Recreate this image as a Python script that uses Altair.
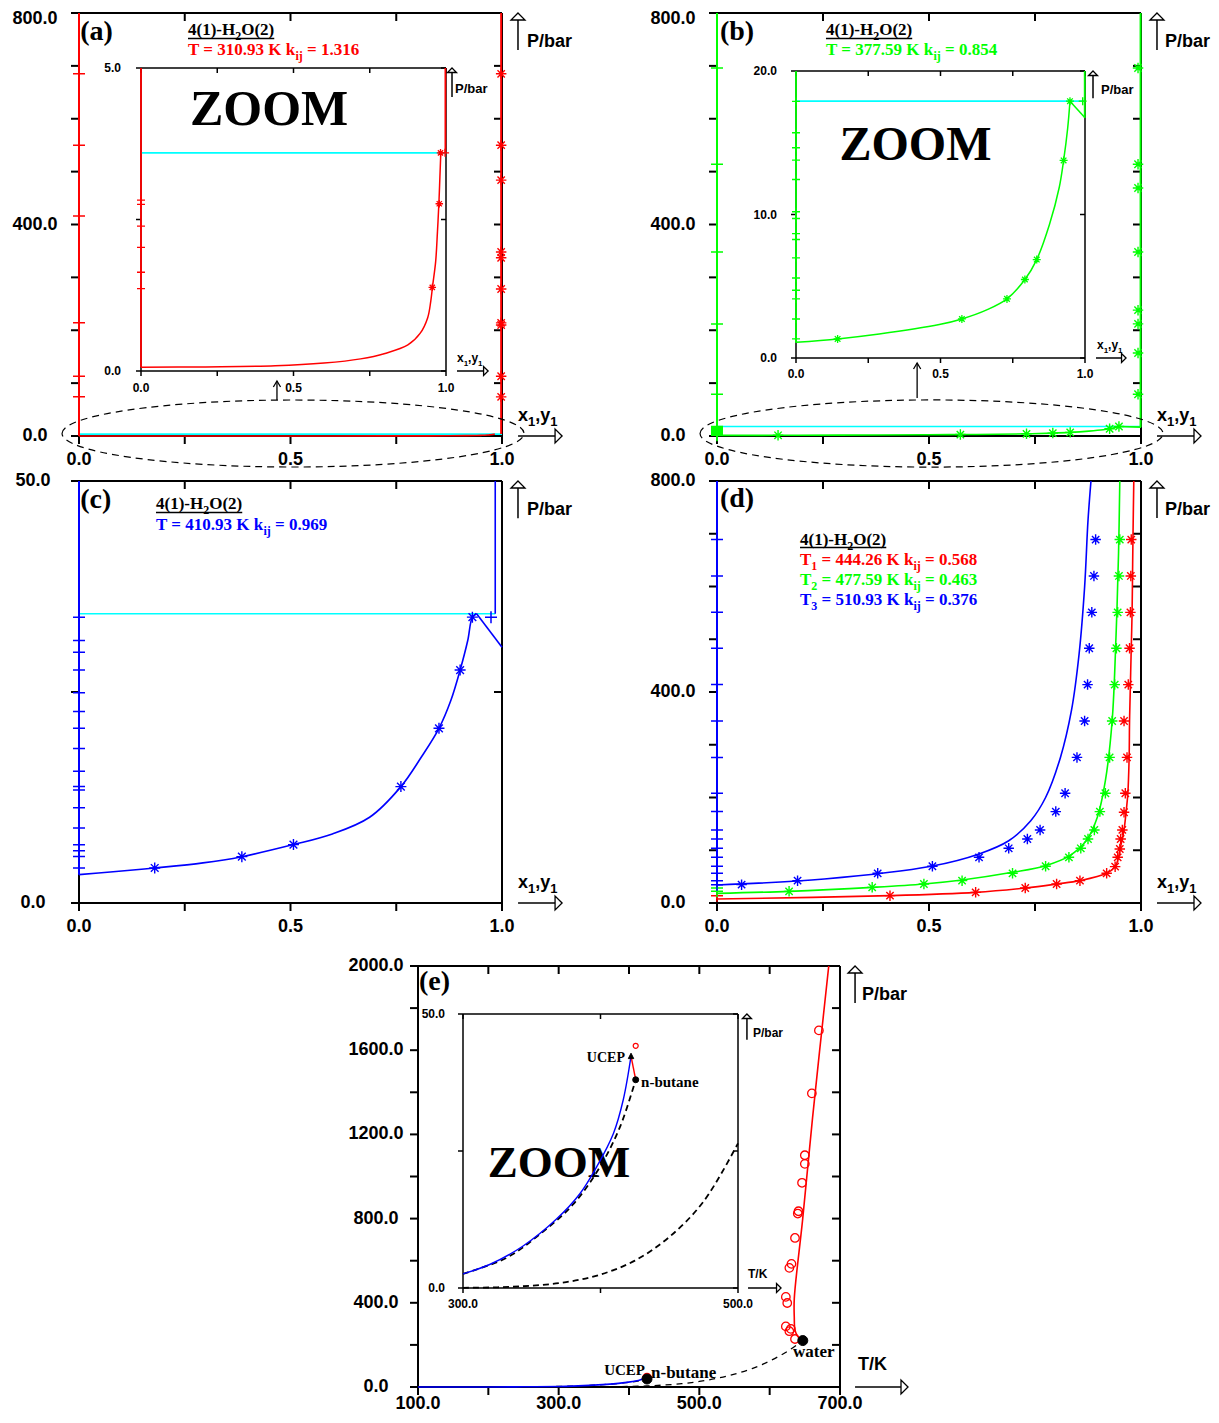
import altair as alt
import pandas as pd

# ======================= DATA =======================
# ---- (a) T = 310.93 K ----
a_water_p = [0.06, 800.0]                      # water-rich phase, x1 ~ 0
a_curve_x = [0.0, 0.20, 0.44, 0.60, 0.72, 0.80, 0.875, 0.915, 0.94, 0.95, 0.956, 0.966, 0.972, 0.977, 0.980, 0.983]
a_curve_p = [0.06, 0.068, 0.085, 0.13, 0.20, 0.29, 0.43, 0.62, 0.88, 1.15, 1.40, 1.80, 2.30, 2.80, 3.20, 3.60]
a_butane_x = 0.998
a_butane_p = [3.6, 800.0]
a_three_p = 3.6
a_plus_hi_p = [685, 550, 416, 214, 113, 74]
a_plus_lo_p = [2.82, 2.75, 2.39, 2.04, 1.63, 1.36]
a_star_hi_p = [685, 550, 484, 348, 337, 278, 214, 210, 113, 74]
a_star_lo_x = [0.955, 0.978, 0.982]
a_star_lo_p = [1.38, 2.76, 3.60]

# ---- (b) T = 377.59 K ----
b_water_p = [1.09, 800.0]
b_curve_x = [0.0, 0.144, 0.288, 0.496, 0.574, 0.66, 0.73, 0.792, 0.833, 0.877, 0.911, 0.926, 0.94, 0.948]
b_curve_p = [1.09, 1.33, 1.67, 2.33, 2.72, 3.35, 4.12, 5.47, 6.86, 9.3, 11.9, 13.77, 16.0, 17.9]
b_dew_x = [0.948, 1.0]
b_dew_p = [17.9, 16.74]
b_butane_x = 0.999
b_butane_p = [16.74, 800.0]
b_three_p = 17.9
b_plus_hi_p = [696, 514, 348, 212, 79]
b_plus_lo_p = [17.88, 15.70, 14.65, 13.79, 12.44, 10.19, 9.72, 8.67, 8.26, 6.98, 5.58, 4.72, 4.12, 2.72, 1.33]
b_star_hi_p = [696, 514, 469, 348, 238, 212, 157, 79]
b_star_lo_x = [0.144, 0.574, 0.73, 0.792, 0.833, 0.926, 0.948]
b_star_lo_p = [1.33, 2.72, 4.12, 5.47, 6.86, 13.77, 17.9]

# ---- (c) T = 410.93 K ----
c_water_p = [3.36, 50.0]
c_curve_x = [0.0, 0.074, 0.179, 0.293, 0.385, 0.507, 0.599, 0.687, 0.761, 0.809, 0.851, 0.879, 0.901, 0.919, 0.930, 0.940]
c_curve_p = [3.36, 3.68, 4.15, 4.75, 5.49, 6.92, 8.18, 10.16, 13.79, 17.27, 20.7, 23.99, 27.6, 31.1, 33.87, 34.27]
c_dew_x = [0.940, 1.0]
c_dew_p = [34.27, 30.3]
c_butane_x = 0.984
c_butane_p = [34.27, 50.0]
c_three_p = 34.27
c_star_x = [0.179, 0.385, 0.507, 0.761, 0.851, 0.901, 0.930]
c_star_p = [4.15, 5.49, 6.92, 13.79, 20.7, 27.6, 33.87]
c_plus_p = [33.87, 31.1, 29.7, 27.6, 24.9, 22.7, 20.7, 18.3, 15.6, 13.8, 13.4, 11.3, 8.9, 6.9, 6.2, 5.5, 4.15]

# ---- (d) T1, T2, T3 ----
d1_x = [0.0, 0.408, 0.610, 0.727, 0.801, 0.856, 0.919, 0.939, 0.947, 0.951, 0.956, 0.960, 0.965, 0.969, 0.972, 0.973, 0.975, 0.977, 0.979, 0.980, 0.981, 0.983]
d1_p = [7.6, 13.9, 20.2, 28.5, 36.0, 42.4, 56.3, 68.9, 86.6, 103.7, 121.4, 138.5, 173.3, 208, 276, 345, 414, 483, 551, 620, 689, 800]
d1_sx = [0.408, 0.61, 0.727, 0.801, 0.856, 0.919, 0.939, 0.945, 0.950, 0.952, 0.956, 0.960, 0.963, 0.967, 0.960, 0.970, 0.973, 0.975, 0.976, 0.977]
d1_sp = [13.9, 20.2, 28.5, 36.0, 42.4, 56.3, 68.9, 86.6, 102.4, 121.4, 138.5, 172, 208, 276, 345, 414, 483, 551, 620, 689]
d2_x = [0.0, 0.17, 0.366, 0.488, 0.578, 0.697, 0.775, 0.832, 0.871, 0.897, 0.916, 0.932, 0.941, 0.947, 0.950]
d2_p = [18.3, 22.1, 29.7, 36.0, 43.6, 58.2, 70.8, 89.8, 118.3, 162.5, 232, 346, 504, 662, 800]
d2_sx = [0.17, 0.366, 0.488, 0.578, 0.697, 0.775, 0.83, 0.858, 0.875, 0.89, 0.903, 0.916, 0.926, 0.932, 0.938, 0.942, 0.945, 0.948, 0.95]
d2_sp = [22.1, 29.7, 36.0, 42.4, 56.3, 69.6, 86.6, 103.7, 121.4, 138.5, 173.3, 208, 276, 345, 414, 483, 551, 620, 689]
d3_x = [0.0, 0.253, 0.505, 0.618, 0.688, 0.74, 0.775, 0.81, 0.836, 0.854, 0.867, 0.875, 0.882]
d3_p = [34.2, 45.5, 69.6, 93, 118, 156, 200, 276, 365, 472, 599, 725, 800]
d3_sx = [0.058, 0.19, 0.379, 0.508, 0.618, 0.688, 0.732, 0.762, 0.799, 0.821, 0.849, 0.867, 0.874, 0.878, 0.884, 0.889, 0.893]
d3_sp = [34.8, 42.4, 56.3, 69.6, 86.6, 103.7, 121.4, 138.5, 173.3, 208, 276, 345, 414, 483, 551, 620, 689]
d_plus1_p = [13.9]
d_plus2_p = [28.5, 22.1]
d_plus3_p = [689, 620, 551, 483, 414, 345, 276, 208, 173.3, 138.5, 121.4, 103.7, 86.6, 69.6, 56.3, 42.4, 34.8]

# ---- (e) critical lines ----
e_blue_T = [100, 150, 200, 250, 300, 319.4, 343.7, 368, 385, 397.2, 409.4, 416.6, 422.2]
e_blue_P = [0.0, 0.01, 0.2, 0.9, 2.58, 4.29, 7.67, 12.58, 17.2, 22.1, 28.2, 34.4, 42.3]
e_but_T = [140, 200, 250, 300, 331.6, 355.9, 380.2, 399.6, 414.2, 425.6]
e_but_P = [0.0, 0.2, 0.9, 2.58, 5.5, 9.8, 15.3, 22.1, 29.4, 38.0]
e_wat_T = [280, 300, 325, 350, 375, 400, 425, 450, 475, 500, 525, 550, 575, 600, 625, 647.1]
e_wat_P = [0.01, 0.035, 0.13, 0.42, 1.07, 2.46, 5.0, 9.3, 15.8, 26.4, 41.4, 61.2, 87.5, 123.4, 169, 220.6]
e_red_T = [647.1, 640, 636, 635, 635, 647, 661, 684]
e_red_P = [220.6, 240, 270, 330, 420, 800, 1280, 2000]
e_ucep = (422.2, 42.3)
e_crit_T = [425.6, 647.1]
e_crit_P = [38.0, 220.6]
e_circ_T = [670, 660, 650, 650, 646, 641, 640, 636, 631, 628, 623, 625, 623, 630, 628, 636, 425.6]
e_circ_P = [1694, 1395, 1101, 1060, 970, 835, 824, 708, 585, 566, 428, 399, 288, 276, 265, 228, 44.2]

# ---- tick values / labels ----
x01_ticks = [0, 0.25, 0.5, 0.75, 1.0]
x01_lab_v = [0, 0.5, 1.0]
x01_lab = ["0.0", "0.5", "1.0"]
p800_ticks = [0, 100, 200, 300, 400, 500, 600, 700, 800]
p800_lab_v = [0, 400, 800]
p800_lab = ["0.0", "400.0", "800.0"]
c_ticks = [0, 25, 50]
c_lab_v = [0, 50]
c_lab = ["0.0", "50.0"]
ai_ticks = [0, 2.5, 5.0]
ai_lab = ["0.0", "5.0"]
bi_ticks = [0, 10, 20]
bi_lab = ["0.0", "10.0", "20.0"]
e_xticks = [100, 200, 300, 400, 500, 600, 700]
e_xlab_v = [100, 300, 500, 700]
e_xlab = ["100.0", "300.0", "500.0", "700.0"]
e_yticks = [0, 200, 400, 600, 800, 1000, 1200, 1400, 1600, 1800, 2000]
e_ylab_v = [0, 400, 800, 1200, 1600, 2000]
e_ylab = ["0.0", "400.0", "800.0", "1200.0", "1600.0", "2000.0"]
ei_xticks = [300, 400, 500]
ei_xlab = ["300.0", "500.0"]
ei_yticks = [0, 25, 50]
ei_ylab = ["0.0", "50.0"]

# ======================= STYLE =======================
M = 8
W, H = 1203, 1407
SANS = "Liberation Sans"
SERIF = "Liberation Serif"
RED, GREEN, BLUE, CYAN, BLACK = "#ff0000", "#00ff00", "#0000ff", "#00ffff", "#000000"
STAR = "M-1,0L1,0M0,-1L0,1M-0.7,-0.7L0.7,0.7M-0.7,0.7L0.7,-0.7"
PLUS = "M-1,0L1,0M0,-1L0,1"
UP_HEAD = "M0,0L1,1L-1,1Z"
RIGHT_HEAD = "M0,0L-1,-1L-1,1Z"
CHEVRON = "M-0.6,1L0,0L0.6,1"
TRI = "M0,-1L0.9,0.8L-0.9,0.8Z"
SMOOTH = "catmull-rom"


def ellipse_path(r):
    return f"M-1,0A1,{r},0,1,1,1,0A1,{r},0,1,1,-1,0Z"


TIMES_B = {' ': 250, '(': 333, ')': 333, '-': 333, '.': 250, '=': 570, 'H': 778, 'O': 778,
           'T': 667, 'K': 778, 'k': 556, 'i': 278, 'j': 333}
ARIAL_B = {' ': 278, 'x': 556, 'y': 556, ',': 278, '1': 556}


class Panel:
    def __init__(self, xdom, ydom, xpx, ypx):
        self.x0, self.x1 = xdom
        self.y0, self.y1 = ydom
        self.xs = alt.Scale(domain=list(xdom), range=[xpx[0] - M, xpx[1] - M], nice=False, zero=False)
        self.ys = alt.Scale(domain=list(ydom), range=[ypx[0] - M, ypx[1] - M], nice=False, zero=False)
        self.kx = (xdom[1] - xdom[0]) / (xpx[1] - xpx[0])
        self.ky = (ydom[1] - ydom[0]) / (ypx[0] - ypx[1])
        self.layers = []

    def enc(self):
        return {'x': alt.X('x:Q', scale=self.xs, axis=None),
                'y': alt.Y('y:Q', scale=self.ys, axis=None)}

    def line(self, xs, ys, color, width=1.6, dash=None, interp=None):
        df = pd.DataFrame({'x': list(xs), 'y': list(ys)})
        df['i'] = range(len(df))
        kw = dict(color=color, strokeWidth=width)
        if dash:
            kw['strokeDash'] = dash
        if interp:
            kw['interpolate'] = interp
        self.layers.append(alt.Chart(df).mark_line(**kw).encode(order=alt.Order('i:Q'), **self.enc()))

    def rules(self, rows, color=BLACK, width=1.5, dash=None):
        df = pd.DataFrame(rows, columns=['x', 'y', 'x2', 'y2'])
        kw = dict(color=color, strokeWidth=width)
        if dash:
            kw['strokeDash'] = dash
        self.layers.append(alt.Chart(df).mark_rule(**kw).encode(
            x2=alt.X2(field='x2'), y2=alt.Y2(field='y2'), **self.enc()))

    def marks(self, xs, ys, shape, size, color, width=1.3, fill=None, dash=None):
        df = pd.DataFrame({'x': list(xs), 'y': list(ys)})
        if fill is None:
            kw = dict(shape=shape, size=size, filled=False, color=color, strokeWidth=width, opacity=1)
        else:
            kw = dict(shape=shape, size=size, filled=True, fill=fill, stroke=color, strokeWidth=width, opacity=1)
        if dash:
            kw['strokeDash'] = dash
        self.layers.append(alt.Chart(df).mark_point(**kw).encode(**self.enc()))

    def texts(self, xs, ys, labels, size, font=SANS, color=BLACK, align='center', baseline='middle'):
        df = pd.DataFrame({'x': list(xs), 'y': list(ys), 't': list(labels)})
        self.layers.append(alt.Chart(df).mark_text(
            font=font, fontSize=size, fontWeight='bold', color=color, align=align, baseline=baseline
        ).encode(text='t:N', **self.enc()))

    def rich(self, x, y, parts, size, color=BLACK, font=SERIF, table=TIMES_B):
        dx = 0.0
        for s, sub in parts:
            fs = round(size * 0.7) if sub else size
            lead = len(s) - len(s.lstrip(' '))
            dx += lead * table[' '] / 1000.0 * fs
            s = s.lstrip(' ')
            kw = dict(font=font, fontSize=fs, fontWeight='bold', color=color,
                      align='left', baseline='alphabetic', dx=round(dx, 1))
            if sub:
                kw['dy'] = round(size * 0.3, 1)
            df = pd.DataFrame({'x': [x], 'y': [y], 't': [s]})
            self.layers.append(alt.Chart(df).mark_text(**kw).encode(text='t:N', **self.enc()))
            dx += sum(table.get(c, 500) for c in s) / 1000.0 * fs
        return dx

    def arrow_up(self, x, ya, yb, s):
        self.rules([(x, ya, x, yb)], width=1.5)
        self.marks([x], [yb], UP_HEAD, (2 * s) ** 2, BLACK, width=1.3, fill='white')

    def arrow_right(self, y, xa, xb, s):
        self.rules([(xa, y, xb, y)], width=1.5)
        self.marks([xb], [y], RIGHT_HEAD, (2 * s) ** 2, BLACK, width=1.3, fill='white')

    def axes(self, xticks, yticks, L, lw):
        x0, x1, y0, y1 = self.x0, self.x1, self.y0, self.y1
        rows = [(x0, y0, x1, y0), (x0, y1, x1, y1), (x0, y0, x0, y1), (x1, y0, x1, y1)]
        for t in yticks:
            rows.append((x0, t, x0 - L * self.kx, t))
            rows.append((x1, t, x1 - L * self.kx, t))
        for t in xticks:
            rows.append((t, y0, t, y0 - L * self.ky))
            rows.append((t, y1, t, y1 - L * self.ky))
        self.rules(rows, width=lw)

    def chart(self):
        return alt.layer(*self.layers)


def cap(vals, top):
    return [min(v, top) for v in vals]


def header(p, x, y, p_line, parts_list, colors, size=17):
    w = p.rich(x, y, [("4(1)-H", 0), ("2", 1), ("O(2)", 0)], size)
    p.rules([(x, p_line, x + w * p.kx, p_line)], width=1.3)
    for (yy, parts), col in zip(parts_list, colors):
        p.rich(x, yy, parts, size, color=col)


def xy_title(p, x, y, size):
    p.rich(x, y, [("x", 0), ("1", 1), (",y", 0), ("1", 1)], size, font=SANS, table=ARIAL_B)


# ======================= PANEL (a) =======================
A = Panel((0, 1), (0, 800), (79, 502), (436, 13))
A.axes(x01_ticks, p800_ticks, 8, 2)
# top label nudged down so that it is not cut by the page edge
A.texts([-0.104] * 3, [0, 400, 800 - 6 * A.ky], p800_lab, 18)
A.texts(x01_lab_v, [-45.4] * 3, x01_lab, 18)
A.line([0, 1], [a_three_p] * 2, CYAN, 1.6)
A.line([0, 0], a_water_p, RED, 2)
A.line([a_butane_x] * 2, a_butane_p, RED, 2)
A.line(a_curve_x, a_curve_p, RED, 1.6, interp=SMOOTH)
A.marks([0] * 6, a_plus_hi_p, PLUS, 144, RED, 1.5)
A.marks([a_butane_x] * 10, a_star_hi_p, STAR, 110, RED, 1.4)
A.texts([0.003], [749], ["(a)"], 28, font=SERIF, align='left', baseline='alphabetic')
header(A, 0.2577, 758.4, 751.8,
       [(720.6, [("T = 310.93 K k", 0), ("ij", 1), (" = 1.316", 0)])], [RED])
A.texts([1.059], [745], ["P/bar"], 18, align='left')
A.arrow_up(1.0378, 730, 800, 7)
xy_title(A, 1.038, 28.4, 18)
A.arrow_right(0, 1.038, 1.142, 7)
A.marks([0.506], [4.7], ellipse_path(0.145), 462 ** 2, BLACK, 1.2, dash=[7, 5])
A.rules([(0.468, 68, 0.468, 104)], width=1.3)
A.marks([0.468], [104], CHEVRON, 144, BLACK, 1.3)

# ---- inset (a) ----
AI = Panel((0, 1), (0, 5), (141, 446), (371, 68))
AI.axes(x01_ticks, ai_ticks, 5, 1.5)
AI.texts([-0.0656] * 2, [0, 5], ai_lab, 12, align='right')
AI.texts(x01_lab_v, [-0.28] * 3, x01_lab, 12)
AI.line([0, 1], [a_three_p] * 2, CYAN, 1.6)
AI.line([0, 0], cap(a_water_p, 5), RED, 1.8)
AI.line([a_butane_x] * 2, cap(a_butane_p, 5), RED, 1.8)
AI.line(a_curve_x, a_curve_p, RED, 1.5, interp=SMOOTH)
AI.marks([0] * 6, a_plus_lo_p, PLUS, 64, RED, 1.4)
AI.marks([0.997], [a_three_p], PLUS, 64, RED, 1.4)
AI.marks(a_star_lo_x, a_star_lo_p, STAR, 56, RED, 1.3)
AI.texts([0.42], [4.06], ["ZOOM"], 50, font=SERIF, baseline='alphabetic')
AI.texts([1.0295], [4.65], ["P/bar"], 13, align='left')
AI.arrow_up(1.0197, 4.52, 5.0, 4.5)
xy_title(AI, 1.036, 0.15, 12)
AI.arrow_right(0, 1.036, 1.138, 4.5)

# ======================= PANEL (b) =======================
B = Panel((0, 1), (0, 800), (717, 1141), (436, 13))
B.axes(x01_ticks, p800_ticks, 8, 2)
B.texts([-0.1038] * 3, [0, 400, 800 - 6 * B.ky], p800_lab, 18)
B.texts(x01_lab_v, [-45.4] * 3, x01_lab, 18)
B.line([0, 1], [b_three_p] * 2, CYAN, 1.6)
B.line([0, 0], b_water_p, GREEN, 2)
B.line([b_butane_x] * 2, b_butane_p, GREEN, 2)
B.line(b_curve_x, b_curve_p, GREEN, 1.6, interp=SMOOTH)
B.line(b_dew_x, b_dew_p, GREEN, 1.6)
B.marks([0] * 20, b_plus_hi_p + b_plus_lo_p, PLUS, 144, GREEN, 1.5)
B.marks([0.993] * 8 + b_star_lo_x, b_star_hi_p + b_star_lo_p, STAR, 110, GREEN, 1.4)
B.texts([0.007], [749], ["(b)"], 28, font=SERIF, align='left', baseline='alphabetic')
header(B, 0.257, 758.4, 751.8,
       [(720.6, [("T = 377.59 K k", 0), ("ij", 1), (" = 0.854", 0)])], [GREEN])
B.texts([1.0566], [745], ["P/bar"], 18, align='left')
B.arrow_up(1.0377, 730, 800, 7)
xy_title(B, 1.0377, 28.4, 18)
B.arrow_right(0, 1.0377, 1.1415, 7)
B.marks([0.506], [4.7], ellipse_path(0.145), 463 ** 2, BLACK, 1.2, dash=[7, 5])
B.rules([(0.472, 71.9, 0.472, 138)], width=1.3)
B.marks([0.472], [138], CHEVRON, 144, BLACK, 1.3)

# ---- inset (b) ----
BI = Panel((0, 1), (0, 20), (796, 1085), (358, 71))
BI.axes(x01_ticks, bi_ticks, 5, 1.5)
BI.texts([-0.066] * 3, bi_ticks, bi_lab, 12, align='right')
BI.texts(x01_lab_v, [-1.115] * 3, x01_lab, 12)
BI.line([0, 1], [b_three_p] * 2, CYAN, 1.6)
BI.line([0, 0], cap(b_water_p, 20), GREEN, 1.8)
BI.line([b_butane_x] * 2, cap(b_butane_p, 20), GREEN, 1.8)
BI.line(b_curve_x, b_curve_p, GREEN, 1.5, interp=SMOOTH)
BI.line(b_dew_x, b_dew_p, GREEN, 1.5)
BI.marks([0] * 15, b_plus_lo_p, PLUS, 64, GREEN, 1.4)
BI.marks([0.992], [b_three_p], PLUS, 64, GREEN, 1.4)
BI.marks(b_star_lo_x, b_star_lo_p, STAR, 64, GREEN, 1.3)
BI.texts([0.4135], [13.8], ["ZOOM"], 48, font=SERIF, baseline='alphabetic')
BI.texts([1.0554], [18.68], ["P/bar"], 13, align='left')
BI.arrow_up(1.0277, 18.1, 20, 4.5)
xy_title(BI, 1.0415, 0.63, 12)
BI.arrow_right(0, 1.038, 1.142, 4.5)

# ======================= PANEL (c) =======================
C = Panel((0, 1), (0, 50), (79, 502), (903, 481))
C.axes(x01_ticks, c_ticks, 8, 2)
C.texts([-0.1087] * 2, c_lab_v, c_lab, 18)
C.texts(x01_lab_v, [-2.84] * 3, x01_lab, 18)
C.line([0, c_butane_x], [c_three_p] * 2, CYAN, 1.6)
C.line([0, 0], c_water_p, BLUE, 2)
C.line([c_butane_x] * 2, c_butane_p, BLUE, 1.6)
C.line(c_curve_x, c_curve_p, BLUE, 1.6, interp=SMOOTH)
C.line(c_dew_x, c_dew_p, BLUE, 1.6)
C.marks([0] * 17, c_plus_p, PLUS, 144, BLUE, 1.5)
C.marks([0.974], [33.87], PLUS, 144, BLUE, 1.5)
C.marks(c_star_x, c_star_p, STAR, 121, BLUE, 1.4)
C.texts([0.003], [46.8], ["(c)"], 28, font=SERIF, align='left', baseline='alphabetic')
header(C, 0.182, 46.68, 46.27,
       [(44.19, [("T = 410.93 K k", 0), ("ij", 1), (" = 0.969", 0)])], [BLUE])
C.texts([1.059], [46.56], ["P/bar"], 18, align='left')
C.arrow_up(1.0378, 45.6, 50, 7)
xy_title(C, 1.038, 1.78, 18)
C.arrow_right(0, 1.038, 1.142, 7)

# ======================= PANEL (d) =======================
D = Panel((0, 1), (0, 800), (717, 1141), (903, 481))
D.axes(x01_ticks, p800_ticks, 8, 2)
D.texts([-0.1038] * 3, p800_lab_v, p800_lab, 18)
D.texts(x01_lab_v, [-45.5] * 3, x01_lab, 18)
D.line([0, 0], [d1_p[0], 800], RED, 2)
D.line([0, 0], [d2_p[0], 800], GREEN, 2)
D.line([0, 0], [d3_p[0], 800], BLUE, 2)
D.line(d1_x, d1_p, RED, 1.6, interp=SMOOTH)
D.line(d2_x, d2_p, GREEN, 1.6, interp=SMOOTH)
D.line(d3_x, d3_p, BLUE, 1.6, interp=SMOOTH)
D.marks([0], d_plus1_p, PLUS, 144, RED, 1.5)
D.marks([0] * 2, d_plus2_p, PLUS, 144, GREEN, 1.5)
D.marks([0] * 17, d_plus3_p, PLUS, 144, BLUE, 1.5)
D.marks(d1_sx, d1_sp, STAR, 110, RED, 1.4)
D.marks(d2_sx, d2_sp, STAR, 110, GREEN, 1.4)
D.marks(d3_sx, d3_sp, STAR, 110, BLUE, 1.4)
D.texts([0.007], [750.7], ["(d)"], 28, font=SERIF, align='left', baseline='alphabetic')
header(D, 0.1958, 678.7, 673.9,
       [(640.8, [("T", 0), ("1", 1), (" = 444.26 K k", 0), ("ij", 1), (" = 0.568", 0)]),
        (602.8, [("T", 0), ("2", 1), (" = 477.59 K k", 0), ("ij", 1), (" = 0.463", 0)]),
        (564.9, [("T", 0), ("3", 1), (" = 510.93 K k", 0), ("ij", 1), (" = 0.376", 0)])],
       [RED, GREEN, BLUE])
D.texts([1.0566], [745], ["P/bar"], 18, align='left')
D.arrow_up(1.0377, 730, 800, 7)
xy_title(D, 1.0377, 28.4, 18)
D.arrow_right(0, 1.0377, 1.1415, 7)

# ======================= PANEL (e) =======================
E = Panel((100, 700), (0, 2000), (418, 840), (1387, 966))
E.axes(e_xticks, e_yticks, 8, 2)
E.texts([40.3] * 6, e_ylab_v, e_ylab, 18)
E.texts(e_xlab_v, [-81] * 4, e_xlab, 18)
E.line(e_wat_T, e_wat_P, BLACK, 1.3, dash=[6, 5], interp=SMOOTH)
E.line(e_but_T, e_but_P, BLACK, 1.3, dash=[6, 5], interp=SMOOTH)
E.line(e_blue_T, e_blue_P, BLUE, 1.6, interp=SMOOTH)
E.line(e_red_T, e_red_P, RED, 1.6, interp=SMOOTH)
E.line([e_ucep[0], e_crit_T[0]], [e_ucep[1], e_crit_P[0]], RED, 1.6)
E.marks(e_circ_T, e_circ_P, "circle", 72, RED, 1.3)
E.marks(e_crit_T, e_crit_P, "circle", 100, BLACK, 1, fill=BLACK)
E.texts([101.4], [1886], ["(e)"], 28, font=SERIF, align='left', baseline='alphabetic')
E.texts([422.8], [57], ["UCEP"], 15, font=SERIF, align='right', baseline='alphabetic')
E.texts([431.3], [42.8], ["n-butane"], 17, font=SERIF, align='left', baseline='alphabetic')
E.texts([633.2], [142.5], ["water"], 17, font=SERIF, align='left', baseline='alphabetic')
E.texts([731.3], [1862], ["P/bar"], 18, align='left')
E.arrow_up(721.4, 1824, 2000, 7)
E.texts([725.7], [104.5], ["T/K"], 18, align='left')
E.arrow_right(0, 721.4, 796.7, 7)

# ---- inset (e) ----
EI = Panel((300, 500), (0, 50), (463, 738), (1288, 1014))
EI.axes(ei_xticks, ei_yticks, 5, 1.5)
EI.texts([286.9] * 2, [0, 50], ei_ylab, 12, align='right')
EI.texts([300, 500], [-2.92] * 2, ei_xlab, 12)
EI.texts([369.8], [20.3], ["ZOOM"], 45, font=SERIF, baseline='alphabetic')
wT = [t for t in e_wat_T if 300 <= t <= 500]
wP = [p for t, p in zip(e_wat_T, e_wat_P) if 300 <= t <= 500]
EI.line(wT, wP, BLACK, 1.8, dash=[6, 4], interp=SMOOTH)
bT = [t for t in e_but_T if t >= 300]
bP = [p for t, p in zip(e_but_T, e_but_P) if t >= 300]
EI.line(bT, bP, BLACK, 1.8, dash=[6, 4], interp=SMOOTH)
uT = [t for t in e_blue_T if t >= 300]
uP = [p for t, p in zip(e_blue_T, e_blue_P) if t >= 300]
EI.line(uT, uP, BLUE, 1.4, interp=SMOOTH)
EI.line([e_ucep[0], e_crit_T[0]], [e_ucep[1], e_crit_P[0]], RED, 1.4)
EI.marks([e_circ_T[-1]], [e_circ_P[-1]], "circle", 25, RED, 1.2)
EI.marks([e_crit_T[0]], [e_crit_P[0]], "circle", 36, BLACK, 1, fill=BLACK)
EI.marks([e_ucep[0]], [e_ucep[1]], TRI, 36, BLACK, 1, fill=BLACK)
EI.texts([417.8], [41.2], ["UCEP"], 14, font=SERIF, align='right', baseline='alphabetic')
EI.texts([429.5], [36.7], ["n-butane"], 15, font=SERIF, align='left', baseline='alphabetic')
EI.texts([510.9], [46.5], ["P/bar"], 12, align='left')
EI.arrow_up(506.5, 45.3, 50, 4.5)
EI.texts([507.3], [2.55], ["T/K"], 12, align='left')
EI.arrow_right(0, 507.3, 531.3, 4.5)

panels = [A, AI, B, BI, C, D, E, EI]
chart = alt.layer(*[p.chart() for p in panels]).resolve_scale(
    x='independent', y='independent'
).properties(
    width=W, height=H, padding=0, autosize=alt.AutoSizeParams(type='none')
).configure_view(stroke=None)

chart.save("out.html", embed_options={"renderer": "svg", "actions": False})
